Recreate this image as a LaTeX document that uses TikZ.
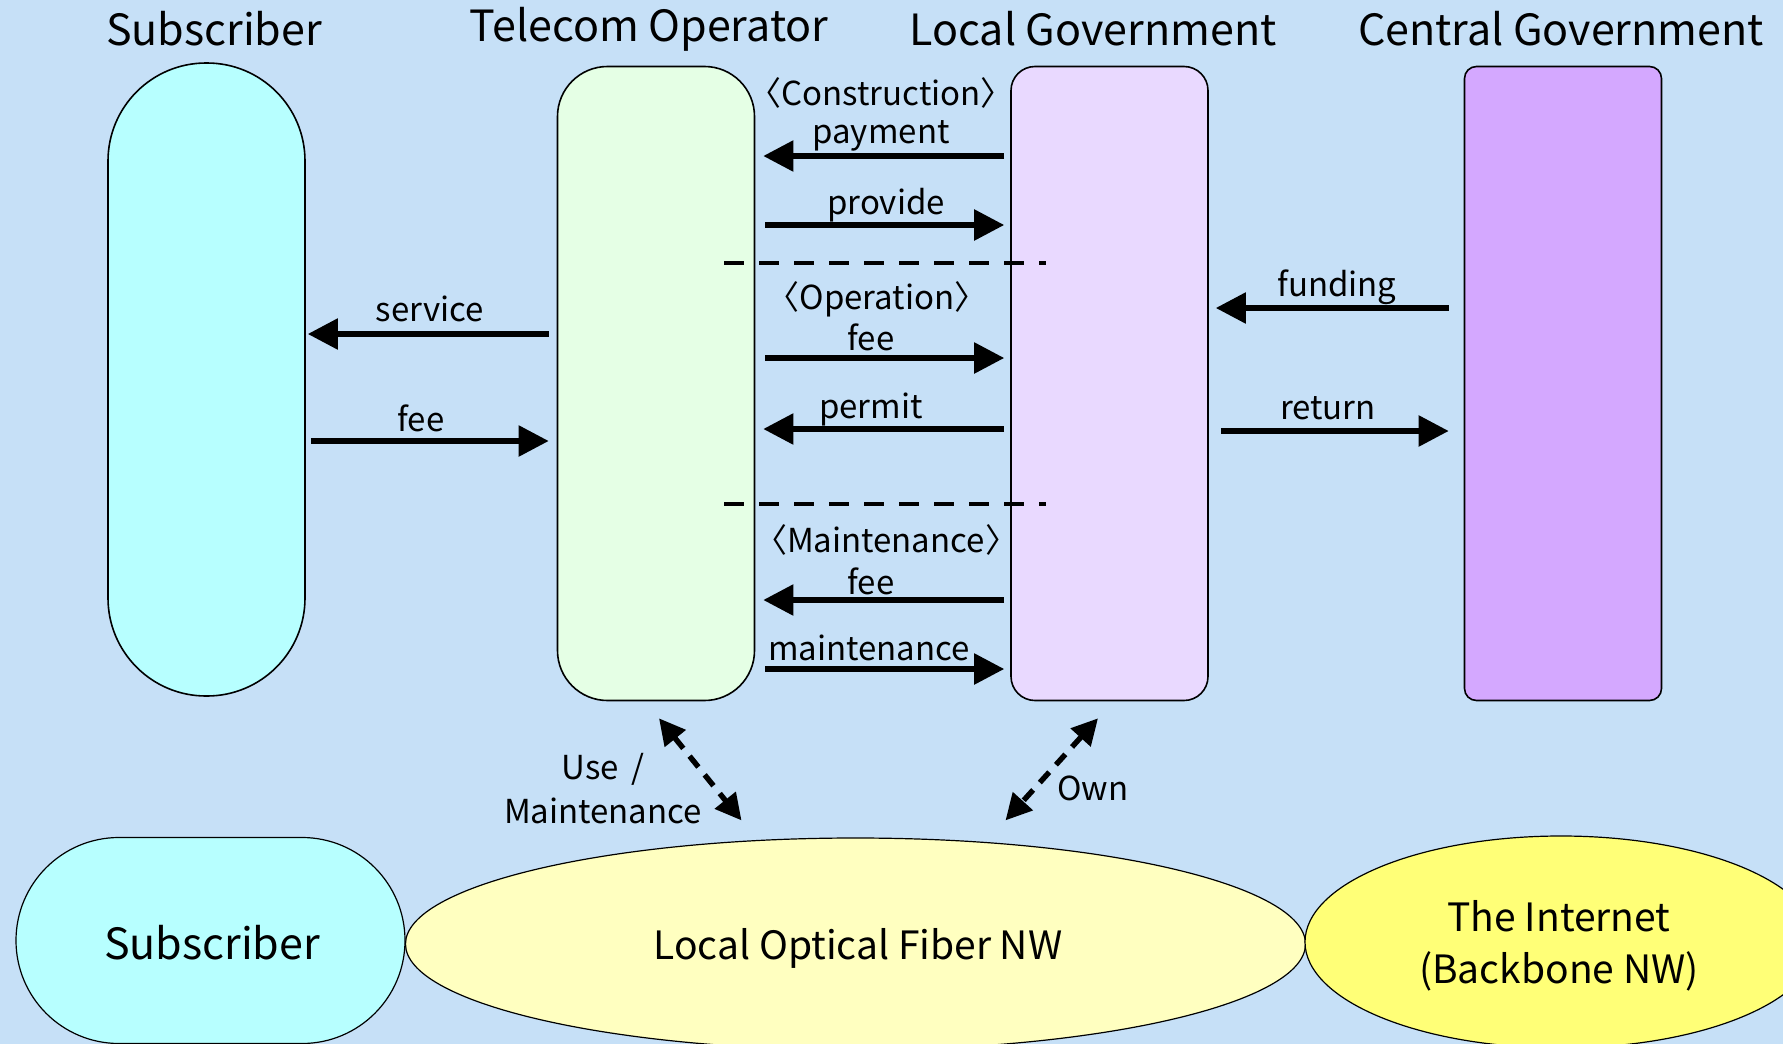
\documentclass[tikz,border=0pt]{standalone}
\usepackage{fontspec}
\setmainfont{Noto Sans CJK JP}
\usetikzlibrary{shapes.geometric,arrows.meta,calc}
\definecolor{bg}{HTML}{C6E0F7}
\definecolor{subc}{HTML}{B7FFFF}
\definecolor{telc}{HTML}{E5FFE5}
\definecolor{lgc}{HTML}{E9D9FF}
\definecolor{cgc}{HTML}{D4A8FF}
\definecolor{fibc}{HTML}{FFFFC0}
\definecolor{netc}{HTML}{FFFF77}
\begin{document}
\begin{tikzpicture}[x=0.5pt,y=-0.5pt,
  box/.style={draw=black,line width=0.8pt,inner sep=0pt,minimum width=98.5pt,minimum height=317pt},
  ttl/.style={font=\fontsize{21.5}{25}\selectfont,inner sep=0pt},
  lbl/.style={font=\fontsize{16.5}{19}\selectfont,inner sep=0pt},
  big/.style={font=\fontsize{19.5}{26}\selectfont,align=center,inner sep=0pt},
  arr/.style={line width=2.7pt,-{Triangle[length=15pt,width=15pt]}},
  darr/.style={line width=2.7pt,dash pattern=on 7pt off 5pt,{Triangle[length=13pt,width=13pt]}-{Triangle[length=13pt,width=13pt]}},
  sep/.style={line width=2.4pt,dash pattern=on 10pt off 7.5pt}]
\fill[bg] (0,0) rectangle (1783,1044);
\useasboundingbox (0,0) rectangle (1783,1044);
% boxes
\node[box,fill=subc,rounded corners=49pt,minimum height=316.5pt] (sub) at (206.5,379.5) {};
\node[box,fill=telc,rounded corners=25pt] (tel) at (656,383.5) {};
\node[box,fill=lgc,rounded corners=12pt] (lg) at (1109.5,383.5) {};
\node[box,fill=cgc,rounded corners=6pt] (cg) at (1563,383.5) {};
% titles
\node[ttl] (t1) at (214,29) {Subscriber};
\node[ttl] (t2) at (649,29) {Telecom Operator};
\node[ttl] (t3) at (1093,29) {Local Government};
\node[ttl] (t4) at (1561,29) {Central Government};
% bottom shapes
\node[draw=black,line width=0.6pt,fill=subc,rectangle,rounded corners=51.5pt,minimum width=194.5pt,minimum height=103pt,inner sep=0pt] (sub2) at (210.5,940.5) {};
\node[font=\fontsize{21.5}{25}\selectfont,inner sep=0pt] (sub2t) at (212,943) {Subscriber};
\node[draw=black,line width=0.6pt,fill=fibc,ellipse,minimum width=450pt,minimum height=106pt,inner sep=0pt] (fib) at (855.5,944) {};
\node[big] (fibt) at (858,948) {Local Optical Fiber NW};
\node[draw=black,line width=0.6pt,fill=netc,ellipse,minimum width=256pt,minimum height=106pt,inner sep=0pt] (net) at (1561,942) {};
\node[big] (nett) at (1559,946) {The Internet\\(Backbone NW)};
% separators
\draw[sep] (724,263) -- (1046,263);
\draw[sep] (724,504) -- (1046,504);
% phase labels
\node[lbl] (ph1) at (881,93) {〈Construction〉};
\node[lbl] (ph2) at (877,299) {〈Operation〉};
\node[lbl] (ph3) at (886,540) {〈Maintenance〉};
% arrows tel <-> lg
\draw[arr,shorten <=3pt,shorten >=4pt] (lg.west |- 0,156) -- (tel.east |- 0,156);
\node[lbl] (l1) at (881,136) {payment};
\draw[arr,shorten <=5pt,shorten >=3pt] (tel.east |- 0,225) -- (lg.west |- 0,225);
\node[lbl] (l2) at (886,205) {provide};
\draw[arr,shorten <=5pt,shorten >=3pt] (tel.east |- 0,358) -- (lg.west |- 0,358);
\node[lbl] (l3) at (871,337) {fee};
\draw[arr,shorten <=3pt,shorten >=4pt] (lg.west |- 0,429) -- (tel.east |- 0,429);
\node[lbl] (l4) at (871,409) {permit};
\draw[arr,shorten <=3pt,shorten >=4pt] (lg.west |- 0,600) -- (tel.east |- 0,600);
\node[lbl] (l5) at (871,581) {fee};
\draw[arr,shorten <=5pt,shorten >=3pt] (tel.east |- 0,669) -- (lg.west |- 0,669);
\node[lbl] (l6) at (869,648) {maintenance};
% sub <-> tel
\draw[arr,shorten <=4pt,shorten >=1pt] (tel.west |- 0,334) -- (sub.east |- 0,334);
\node[lbl] (l7) at (430,309) {service};
\draw[arr,shorten <=2.5pt,shorten >=4pt] (sub.east |- 0,441) -- (tel.west |- 0,441);
\node[lbl] (l8) at (421,418) {fee};
% lg <-> cg
\draw[arr,shorten <=7.5pt,shorten >=3.5pt] (cg.west |- 0,308) -- (lg.east |- 0,308);
\node[lbl] (l9) at (1337,287) {funding};
\draw[arr,shorten <=6pt,shorten >=7.5pt] (lg.east |- 0,431) -- (cg.west |- 0,431);
\node[lbl] (l10) at (1328,408) {return};
% dashed double arrows
\draw[darr] ($(tel.south)+(3,17)$) -- ($(fib.north)+(-114,-17)$);
\node[lbl,align=center,font=\fontsize{16.5}{22}\selectfont] (l11) at (603,789) {Use \,/\\Maintenance};
\draw[darr] ($(lg.south)+(-11.5,17)$) -- ($(fib.north)+(150,-17)$);
\node[lbl] (l12) at (1093,788) {Own};
\end{tikzpicture}
\end{document}
